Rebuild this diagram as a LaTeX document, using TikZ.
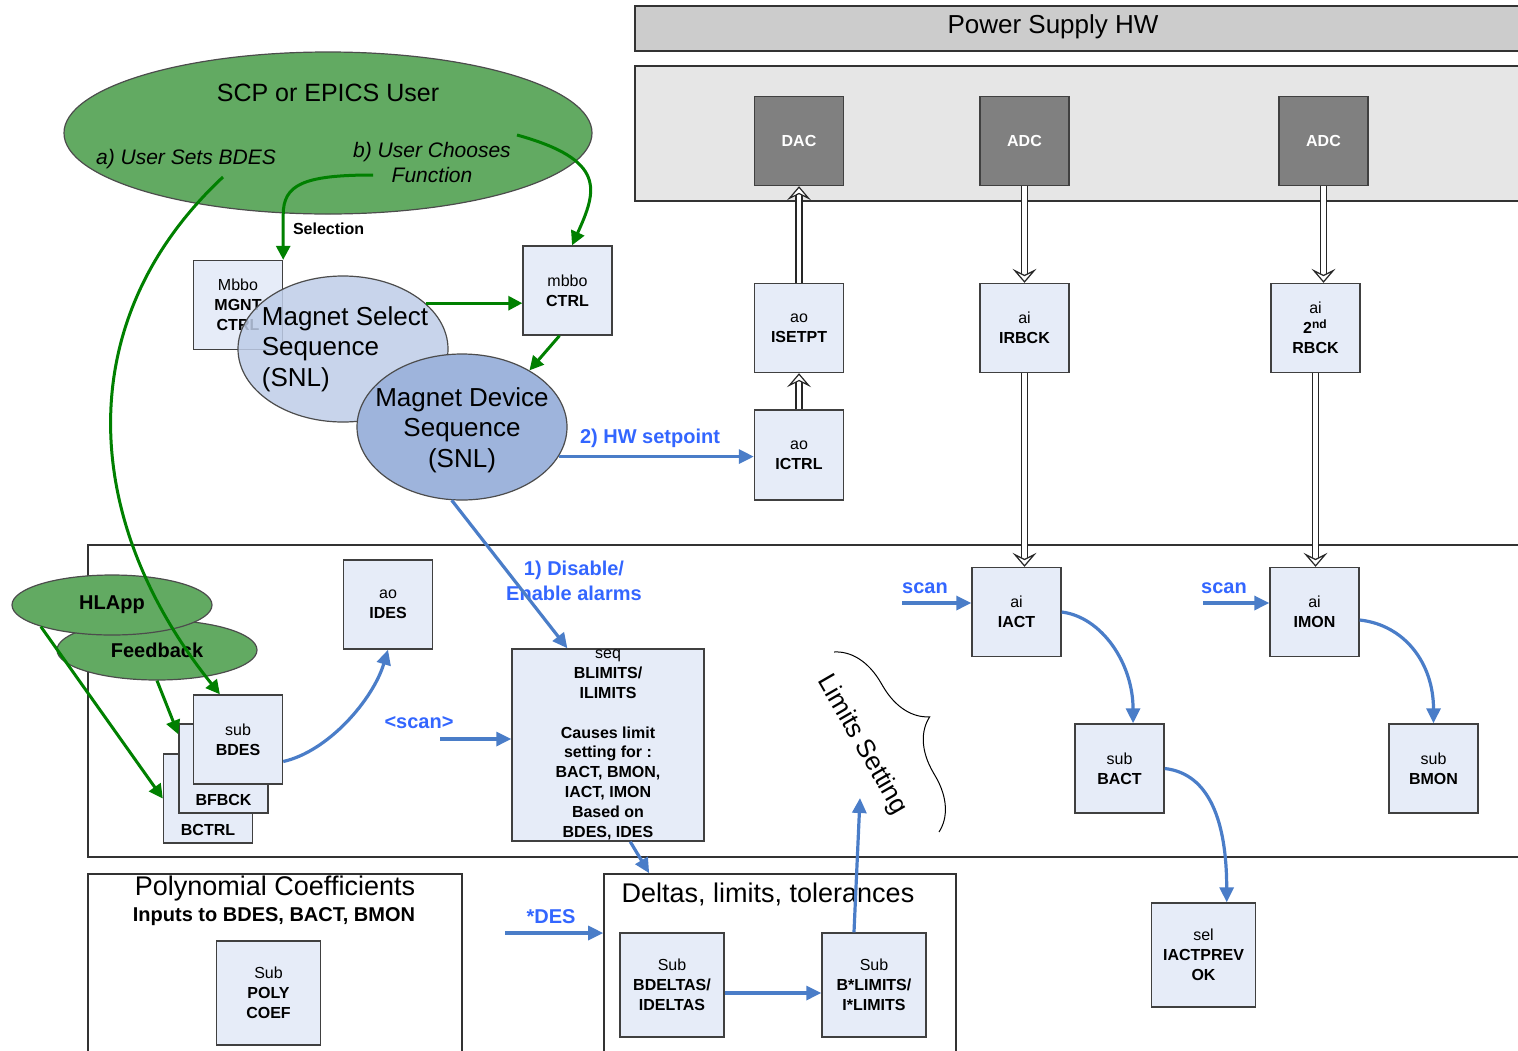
\documentclass[tikz,border=0pt]{standalone}
\usepackage{fontspec}
\setmainfont{Liberation Sans}
\usetikzlibrary{arrows.meta,calc,shapes.geometric,decorations.pathreplacing}
\definecolor{recfill}{RGB}{230,236,248}
\definecolor{hwgray}{RGB}{204,204,204}
\definecolor{hwpanel}{RGB}{230,230,230}
\definecolor{chipgray}{RGB}{128,128,128}
\definecolor{usergreen}{RGB}{98,170,98}
\definecolor{flowgreen}{RGB}{0,128,0}
\definecolor{selblue}{RGB}{190,205,232}
\definecolor{devblue}{RGB}{158,180,220}
\definecolor{linkblue}{RGB}{74,125,200}
\definecolor{textblue}{RGB}{51,102,255}
\tikzset{%
  record/.style    = {shape=rectangle, draw=black!75, fill=recfill,%
                      line width=0.7pt, align=center, inner sep=0pt,%
                      minimum width=44.5pt, minimum height=44.5pt,%
                      font=\fontsize{8}{10}\selectfont},%
  bigrecord/.style = {record, minimum width=52pt, minimum height=52pt},%
  chip/.style      = {record, fill=chipgray, text=white,%
                      font=\fontsize{8}{10}\selectfont\bfseries},%
  frame/.style     = {shape=rectangle, draw=black!80, line width=0.8pt},%
  user/.style      = {shape=ellipse, draw=black!70, fill=usergreen,%
                      inner sep=0pt, line width=0.6pt},%
  snl/.style       = {shape=ellipse, draw=black!70, inner sep=0pt,%
                      line width=0.6pt, minimum width=105pt, minimum height=73pt},%
  snltext/.style   = {align=center, font=\fontsize{13}{15.25}\selectfont},%
  ctlarrow/.style  = {draw=flowgreen, line width=1.5pt,%
                      -{Triangle[length=7pt,width=7pt]}},%
  dataarrow/.style = {draw=linkblue, line width=1.6pt,%
                      -{Triangle[length=7.5pt,width=7pt]}},%
  hwlink/.style    = {draw=black!85, line width=0.6pt, double=white,%
                      double distance=2.4pt,%
                      -{Stealth[open, fill=white, length=7pt, width=12pt, inset=3pt]}},%
  bluelbl/.style   = {text=textblue, align=center,%
                      font=\fontsize{10}{12}\selectfont\bfseries}%
}
\begin{document}
\begin{tikzpicture}[x=0.5pt,y=-0.5pt,
every node/.style = {font=\fontsize{8}{10}\selectfont}]
	\useasboundingbox (0,0) rectangle (1518,1050);
	\node[frame, fill=hwgray, minimum width=447.5pt, minimum height=22.5pt] (psu) at (1082.5,28.5) {};
	\node[font=\fontsize{13}{15}\selectfont] (psutitle) at (1053,27) {Power Supply HW};
	\node[frame, fill=hwpanel, minimum width=447.5pt, minimum height=67.5pt] (panel) at (1082.5,133.5) {};
	\node[frame, minimum width=721pt, minimum height=156pt] (ioc) at (809,701) {};
	\node[frame, minimum width=187pt, minimum height=93pt] (polybox) at (275,967) {};
	\node[frame, minimum width=176pt, minimum height=93pt] (deltas) at (780,967) {};
	\node[font=\fontsize{13.5}{16}\selectfont] (polytitle) at (275,889) {Polynomial Coefficients};
	\node[font=\fontsize{10}{12}\selectfont\bfseries] (polyinputs) at (274,917) {Inputs to BDES, BACT, BMON};
	\node[font=\fontsize{13.5}{16}\selectfont] (deltastitle) at (768,894) {Deltas, limits, tolerances};

	\node[chip] (dac)    at (799,141)    {DAC};
	\node[chip] (adc)    at (1024.5,141) {ADC};
	\node[chip] (adctwo) at (1323.5,141) {ADC};
	\node[record] (isetpt) at (799,328)    {ao\\\textbf{ISETPT}};
	\node[record] (irbck)  at (1024.5,328) {ai\\\textbf{IRBCK}};
	\node[record] (rbck)   at (1315.5,328) {ai\\\textbf{2\textsuperscript{nd}}\\\textbf{RBCK}};
	\node[record, minimum height=45pt] (ictrl) at (799,455) {ao\\\textbf{ICTRL}};
	\node[record] (iact)   at (1016.5,612)   {ai\\\textbf{IACT}};
	\node[record] (imon)   at (1314.5,612)   {ai\\\textbf{IMON}};
	\node[record] (bact)   at (1119.5,768.5) {sub\\\textbf{BACT}};
	\node[record] (bmon)   at (1433.5,768.5) {sub\\\textbf{BMON}};
	\node[bigrecord] (iactprev) at (1203.5,955) {sel\\\textbf{IACTPREV}\\\textbf{OK}};
	\node[record] (ides)   at (388,604.5) {ao\\\textbf{IDES}};
	\node[record, font=\fontsize{8}{9.9}\selectfont, minimum width=96pt, minimum height=96pt] (seqbox) at (608,745)
		{seq\\\textbf{BLIMITS/}\\\textbf{ILIMITS}\\[9.9pt]\textbf{Causes limit}\\\textbf{setting for :}\\%
		 \textbf{BACT, BMON,}\\\textbf{IACT, IMON}\\\textbf{Based on}\\\textbf{BDES, IDES}};
	\node[record, label={[anchor=south, inner sep=4pt, font=\fontsize{8}{10}\selectfont\bfseries]south:BCTRL}] (bctrl) at (208,798.5) {};
	\node[record, label={[anchor=south, inner sep=4pt, font=\fontsize{8}{10}\selectfont\bfseries]south:BFBCK}] (bfbck) at (223.5,768.5) {};
	\node[record] (bdes) at (238,739.5) {sub\\\textbf{BDES}};
	\node[bigrecord] (poly)    at (268.5,993) {Sub\\\textbf{POLY}\\\textbf{COEF}};
	\node[bigrecord] (bdeltas) at (672,985)   {Sub\\\textbf{BDELTAS/}\\\textbf{IDELTAS}};
	\node[bigrecord] (blimits) at (874,985)   {Sub\\\textbf{B*LIMITS/}\\\textbf{I*LIMITS}};

	\node[record] (mgnt)  at (238,305)     {Mbbo\\\textbf{MGNT}\\\textbf{CTRL}};
	\node[record] (mctrl) at (567.5,290.5) {mbbo\\\textbf{CTRL}};
	\node[snl, fill=selblue, fill opacity=0.85] (msel) at (343,349) {};
	\node[snltext, align=left] (mseltext) at (345,349) {Magnet Select\\Sequence\\(SNL)};
	\node[snl, fill=devblue] (mdev) at (462,427) {};
	\node[snltext] (mdevtext) at (462,430) {Magnet Device\\Sequence\\(SNL)};

	\node[user, minimum width=264pt, minimum height=81pt] (scp) at (328,133) {};
	\node[font=\fontsize{12.5}{15}\selectfont] (scptitle) at (328,93) {SCP or EPICS User};
	\node[font=\fontsize{10.5}{12.5}\selectfont\itshape] (setlbl) at (186,159) {a) User Sets BDES};
	\node[font=\fontsize{10.5}{12.5}\selectfont\itshape, align=center] (chooselbl) at (432,162) {b) User Chooses\\Function};
	\node[user, minimum width=100pt, minimum height=30pt, font=\fontsize{10}{12}\selectfont\bfseries] (feedback) at (157,650) {Feedback};
	\node[user, minimum width=100pt, minimum height=30pt, font=\fontsize{10}{12}\selectfont\bfseries] (hlapp) at (112,605) {HLApp};

	\draw[hwlink] (isetpt) -- (dac);
	\draw[hwlink] (ictrl) -- (isetpt);
	\draw[hwlink] (adc) -- (irbck);
	\draw[hwlink] (irbck.south) -- (irbck.south |- iact.north);
	\draw[hwlink] (adctwo.south) -- (adctwo.south |- rbck.north);
	\draw[hwlink] (rbck.south) -- (rbck.south |- imon.north);

	\coordinate (setbdes)   at (223,177);
	\coordinate (choosesel) at (373,175);
	\coordinate (choosefn)  at (517,135);
	\draw[ctlarrow] (setbdes) .. controls (70,320) and (80,520) .. ($(bdes.north west)!0.3!(bdes.north east)$);
	\draw[ctlarrow] (choosesel) .. controls +(-70,0) and +(0,-30) .. ($(mgnt.north east)+(0,-45)$) -- (mgnt.north east);
	\node[font=\fontsize{8}{10}\selectfont\bfseries, anchor=west] (sellbl) at (286,229) {Selection};
	\draw[ctlarrow] (choosefn) .. controls +(90,25) and +(25,-55) .. ($(mctrl.north west)!0.55!(mctrl.north east)$);
	\draw[ctlarrow] (msel.29) -- (msel.29 -| mctrl.west);
	\draw[ctlarrow] ([xshift=-4pt]mctrl.south) -- (mdev.40);
	\draw[ctlarrow] (hlapp.south west) -- (bctrl.west);
	\draw[ctlarrow] (feedback.south) -- ($(bfbck.north west)+(0,11)$);

	\node[bluelbl] (hwlbl) at (650,438) {2) HW setpoint};
	\draw[dataarrow] (mdev.-17) -- (mdev.-17 -| ictrl.west);
	\node[bluelbl, font=\fontsize{10}{12.5}\selectfont\bfseries] (alarmlbl) at (574,581) {1) Disable/\\Enable alarms};
	\draw[dataarrow] (mdev.262) -- ($(seqbox.north west)!0.29!(seqbox.north east)$);
	\coordinate (scanseq) at (440,739);
	\node[bluelbl] (scanseqlbl) at (419,723) {<scan>};
	\draw[dataarrow] (scanseq) -- (scanseq -| seqbox.west);
	\draw[dataarrow] ($(bdes.east)+(0,22)$) .. controls +(45,-10) and +(-15,50) .. (ides.south);
	\draw[dataarrow] ($(seqbox.south west)!0.615!(seqbox.south east)$) -- ($(deltas.north west)!0.13!(deltas.north east)$);
	\coordinate (desin) at (505,933);
	\node[bluelbl] (deslbl) at (551,917) {*DES};
	\draw[dataarrow] (desin) -- (desin -| deltas.west);
	\draw[dataarrow] ($(bdeltas.east)+(0,8)$) -- ($(blimits.west)+(0,8)$);
	\coordinate (limtip) at (860,798);
	\draw[dataarrow] ($(blimits.north west)!0.31!(blimits.north east)$) -- (limtip);
	\coordinate (scaniact) at (902,603);
	\node[bluelbl] (scanlbla) at (925,588) {scan};
	\draw[dataarrow] (scaniact) -- (scaniact -| iact.west);
	\coordinate (scanimon) at (1203,603);
	\node[bluelbl] (scanlblb) at (1224,588) {scan};
	\draw[dataarrow] (scanimon) -- (scanimon -| imon.west);
	\draw[dataarrow] (iact.east) .. controls +(40,5) and +(0,-60) .. ($(bact.north west)!0.65!(bact.north east)$);
	\draw[dataarrow] ($(imon.east)+(0,8)$) .. controls +(45,5) and +(0,-60) .. (bmon.north);
	\draw[dataarrow] (bact.east) .. controls +(45,5) and +(0,-80) .. ($(iactprev.north west)!0.72!(iactprev.north east)$);

	\draw[decorate, decoration={brace, amplitude=25pt}, line width=0.5pt] (834,652) -- (939,832);
	\node[rotate=-60, font=\fontsize{13}{15}\selectfont] (limlbl) at (862,745) {Limits Setting};
\end{tikzpicture}
\end{document}
